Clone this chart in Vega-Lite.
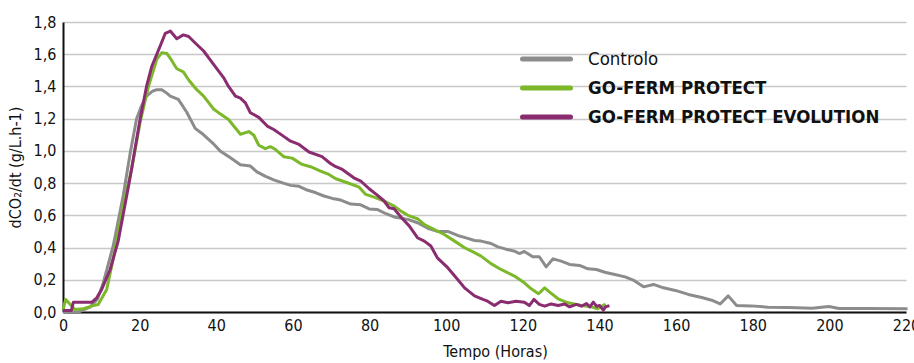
{
  "$schema": "https://vega.github.io/schema/vega-lite/v6.json",
  "width": 843,
  "height": 290,
  "autosize": "none",
  "padding": {"left": 63, "top": 22, "right": 8, "bottom": 51},
  "background": "white",
  "config": {
    "view": {"stroke": null},
    "font": "Liberation Sans Narrow, DejaVu Sans Condensed, Roboto"
  },
  "data": {
    "values": [
      {"h": 0, "v": 0.0, "s": "Controlo"},
      {"h": 4, "v": 0.0, "s": "Controlo"},
      {"h": 7, "v": 0.03, "s": "Controlo"},
      {"h": 9, "v": 0.08, "s": "Controlo"},
      {"h": 10.5, "v": 0.18, "s": "Controlo"},
      {"h": 13.1, "v": 0.41, "s": "Controlo"},
      {"h": 15.7, "v": 0.72, "s": "Controlo"},
      {"h": 17.5, "v": 0.98, "s": "Controlo"},
      {"h": 19.2, "v": 1.2, "s": "Controlo"},
      {"h": 20.5, "v": 1.28, "s": "Controlo"},
      {"h": 21.8, "v": 1.34, "s": "Controlo"},
      {"h": 23.3, "v": 1.37, "s": "Controlo"},
      {"h": 24.5, "v": 1.38, "s": "Controlo"},
      {"h": 25.8, "v": 1.38, "s": "Controlo"},
      {"h": 27, "v": 1.36, "s": "Controlo"},
      {"h": 28, "v": 1.34, "s": "Controlo"},
      {"h": 30.1, "v": 1.32, "s": "Controlo"},
      {"h": 32.3, "v": 1.24, "s": "Controlo"},
      {"h": 34.5, "v": 1.14, "s": "Controlo"},
      {"h": 36.7, "v": 1.1, "s": "Controlo"},
      {"h": 39, "v": 1.05, "s": "Controlo"},
      {"h": 41, "v": 1.0, "s": "Controlo"},
      {"h": 43.5, "v": 0.96, "s": "Controlo"},
      {"h": 46.3, "v": 0.914, "s": "Controlo"},
      {"h": 48.9, "v": 0.906, "s": "Controlo"},
      {"h": 50.6, "v": 0.87, "s": "Controlo"},
      {"h": 53, "v": 0.84, "s": "Controlo"},
      {"h": 55, "v": 0.82, "s": "Controlo"},
      {"h": 57.5, "v": 0.8, "s": "Controlo"},
      {"h": 59.4, "v": 0.786, "s": "Controlo"},
      {"h": 61.6, "v": 0.78, "s": "Controlo"},
      {"h": 63.7, "v": 0.757, "s": "Controlo"},
      {"h": 66, "v": 0.74, "s": "Controlo"},
      {"h": 68.1, "v": 0.72, "s": "Controlo"},
      {"h": 70.3, "v": 0.705, "s": "Controlo"},
      {"h": 72.5, "v": 0.695, "s": "Controlo"},
      {"h": 75.1, "v": 0.67, "s": "Controlo"},
      {"h": 77.7, "v": 0.665, "s": "Controlo"},
      {"h": 79.9, "v": 0.64, "s": "Controlo"},
      {"h": 82.1, "v": 0.636, "s": "Controlo"},
      {"h": 84.3, "v": 0.61, "s": "Controlo"},
      {"h": 86.4, "v": 0.59, "s": "Controlo"},
      {"h": 90, "v": 0.575, "s": "Controlo"},
      {"h": 92.5, "v": 0.554, "s": "Controlo"},
      {"h": 95.2, "v": 0.52, "s": "Controlo"},
      {"h": 97.7, "v": 0.5, "s": "Controlo"},
      {"h": 100.4, "v": 0.5, "s": "Controlo"},
      {"h": 103, "v": 0.475, "s": "Controlo"},
      {"h": 105.2, "v": 0.46, "s": "Controlo"},
      {"h": 107.4, "v": 0.444, "s": "Controlo"},
      {"h": 109.1, "v": 0.44, "s": "Controlo"},
      {"h": 111.7, "v": 0.425, "s": "Controlo"},
      {"h": 113.5, "v": 0.404, "s": "Controlo"},
      {"h": 115.6, "v": 0.39, "s": "Controlo"},
      {"h": 117.8, "v": 0.378, "s": "Controlo"},
      {"h": 119.1, "v": 0.363, "s": "Controlo"},
      {"h": 120.4, "v": 0.376, "s": "Controlo"},
      {"h": 122.6, "v": 0.343, "s": "Controlo"},
      {"h": 124.3, "v": 0.343, "s": "Controlo"},
      {"h": 126.1, "v": 0.28, "s": "Controlo"},
      {"h": 127.9, "v": 0.33, "s": "Controlo"},
      {"h": 130, "v": 0.316, "s": "Controlo"},
      {"h": 132.2, "v": 0.295, "s": "Controlo"},
      {"h": 134.8, "v": 0.289, "s": "Controlo"},
      {"h": 137, "v": 0.268, "s": "Controlo"},
      {"h": 139.2, "v": 0.264, "s": "Controlo"},
      {"h": 141.4, "v": 0.247, "s": "Controlo"},
      {"h": 144, "v": 0.233, "s": "Controlo"},
      {"h": 146.7, "v": 0.218, "s": "Controlo"},
      {"h": 148.8, "v": 0.198, "s": "Controlo"},
      {"h": 151.5, "v": 0.156, "s": "Controlo"},
      {"h": 154.1, "v": 0.171, "s": "Controlo"},
      {"h": 156.7, "v": 0.15, "s": "Controlo"},
      {"h": 159.8, "v": 0.134, "s": "Controlo"},
      {"h": 163.2, "v": 0.109, "s": "Controlo"},
      {"h": 166.7, "v": 0.09, "s": "Controlo"},
      {"h": 169.3, "v": 0.073, "s": "Controlo"},
      {"h": 171.5, "v": 0.05, "s": "Controlo"},
      {"h": 173.6, "v": 0.1, "s": "Controlo"},
      {"h": 175.8, "v": 0.04, "s": "Controlo"},
      {"h": 179.5, "v": 0.038, "s": "Controlo"},
      {"h": 184, "v": 0.03, "s": "Controlo"},
      {"h": 189.4, "v": 0.028, "s": "Controlo"},
      {"h": 195.5, "v": 0.024, "s": "Controlo"},
      {"h": 199.9, "v": 0.034, "s": "Controlo"},
      {"h": 202.5, "v": 0.022, "s": "Controlo"},
      {"h": 210, "v": 0.022, "s": "Controlo"},
      {"h": 220.4, "v": 0.02, "s": "Controlo"},

      {"h": 0, "v": 0.015, "s": "GO-FERM PROTECT"},
      {"h": 0.7, "v": 0.078, "s": "GO-FERM PROTECT"},
      {"h": 2.7, "v": 0.026, "s": "GO-FERM PROTECT"},
      {"h": 3.1, "v": 0.015, "s": "GO-FERM PROTECT"},
      {"h": 5.3, "v": 0.02, "s": "GO-FERM PROTECT"},
      {"h": 7.9, "v": 0.04, "s": "GO-FERM PROTECT"},
      {"h": 9.2, "v": 0.047, "s": "GO-FERM PROTECT"},
      {"h": 11.4, "v": 0.14, "s": "GO-FERM PROTECT"},
      {"h": 13.1, "v": 0.33, "s": "GO-FERM PROTECT"},
      {"h": 15.7, "v": 0.66, "s": "GO-FERM PROTECT"},
      {"h": 17.9, "v": 0.885, "s": "GO-FERM PROTECT"},
      {"h": 20.1, "v": 1.175, "s": "GO-FERM PROTECT"},
      {"h": 22.3, "v": 1.4, "s": "GO-FERM PROTECT"},
      {"h": 24.5, "v": 1.57, "s": "GO-FERM PROTECT"},
      {"h": 25.8, "v": 1.61, "s": "GO-FERM PROTECT"},
      {"h": 27.1, "v": 1.605, "s": "GO-FERM PROTECT"},
      {"h": 28.4, "v": 1.56, "s": "GO-FERM PROTECT"},
      {"h": 29.7, "v": 1.51, "s": "GO-FERM PROTECT"},
      {"h": 31.4, "v": 1.49, "s": "GO-FERM PROTECT"},
      {"h": 32.8, "v": 1.44, "s": "GO-FERM PROTECT"},
      {"h": 34.9, "v": 1.38, "s": "GO-FERM PROTECT"},
      {"h": 36.7, "v": 1.34, "s": "GO-FERM PROTECT"},
      {"h": 39.3, "v": 1.26, "s": "GO-FERM PROTECT"},
      {"h": 41, "v": 1.23, "s": "GO-FERM PROTECT"},
      {"h": 43.2, "v": 1.195, "s": "GO-FERM PROTECT"},
      {"h": 46.3, "v": 1.103, "s": "GO-FERM PROTECT"},
      {"h": 48.5, "v": 1.12, "s": "GO-FERM PROTECT"},
      {"h": 49.8, "v": 1.097, "s": "GO-FERM PROTECT"},
      {"h": 51.1, "v": 1.035, "s": "GO-FERM PROTECT"},
      {"h": 52.8, "v": 1.014, "s": "GO-FERM PROTECT"},
      {"h": 54.1, "v": 1.026, "s": "GO-FERM PROTECT"},
      {"h": 55.4, "v": 1.01, "s": "GO-FERM PROTECT"},
      {"h": 57.6, "v": 0.964, "s": "GO-FERM PROTECT"},
      {"h": 59.8, "v": 0.955, "s": "GO-FERM PROTECT"},
      {"h": 62.4, "v": 0.916, "s": "GO-FERM PROTECT"},
      {"h": 64.6, "v": 0.902, "s": "GO-FERM PROTECT"},
      {"h": 67.2, "v": 0.875, "s": "GO-FERM PROTECT"},
      {"h": 69.4, "v": 0.854, "s": "GO-FERM PROTECT"},
      {"h": 71.2, "v": 0.827, "s": "GO-FERM PROTECT"},
      {"h": 74.2, "v": 0.802, "s": "GO-FERM PROTECT"},
      {"h": 77.3, "v": 0.775, "s": "GO-FERM PROTECT"},
      {"h": 79, "v": 0.73, "s": "GO-FERM PROTECT"},
      {"h": 81.2, "v": 0.713, "s": "GO-FERM PROTECT"},
      {"h": 83.8, "v": 0.689, "s": "GO-FERM PROTECT"},
      {"h": 86.4, "v": 0.658, "s": "GO-FERM PROTECT"},
      {"h": 88.2, "v": 0.626, "s": "GO-FERM PROTECT"},
      {"h": 90, "v": 0.6, "s": "GO-FERM PROTECT"},
      {"h": 92.5, "v": 0.579, "s": "GO-FERM PROTECT"},
      {"h": 94.3, "v": 0.543, "s": "GO-FERM PROTECT"},
      {"h": 96.9, "v": 0.512, "s": "GO-FERM PROTECT"},
      {"h": 99.5, "v": 0.481, "s": "GO-FERM PROTECT"},
      {"h": 102.2, "v": 0.44, "s": "GO-FERM PROTECT"},
      {"h": 104.8, "v": 0.399, "s": "GO-FERM PROTECT"},
      {"h": 107.4, "v": 0.368, "s": "GO-FERM PROTECT"},
      {"h": 109.1, "v": 0.347, "s": "GO-FERM PROTECT"},
      {"h": 111.7, "v": 0.3, "s": "GO-FERM PROTECT"},
      {"h": 114.3, "v": 0.264, "s": "GO-FERM PROTECT"},
      {"h": 117.8, "v": 0.223, "s": "GO-FERM PROTECT"},
      {"h": 120.4, "v": 0.181, "s": "GO-FERM PROTECT"},
      {"h": 122.2, "v": 0.144, "s": "GO-FERM PROTECT"},
      {"h": 124.1, "v": 0.113, "s": "GO-FERM PROTECT"},
      {"h": 125.7, "v": 0.15, "s": "GO-FERM PROTECT"},
      {"h": 127, "v": 0.123, "s": "GO-FERM PROTECT"},
      {"h": 129.2, "v": 0.082, "s": "GO-FERM PROTECT"},
      {"h": 131.8, "v": 0.057, "s": "GO-FERM PROTECT"},
      {"h": 135.3, "v": 0.04, "s": "GO-FERM PROTECT"},
      {"h": 137.9, "v": 0.032, "s": "GO-FERM PROTECT"},
      {"h": 139.5, "v": 0.02, "s": "GO-FERM PROTECT"},
      {"h": 140.5, "v": 0.032, "s": "GO-FERM PROTECT"},
      {"h": 141.6, "v": 0.05, "s": "GO-FERM PROTECT"},

      {"h": 0, "v": 0.01, "s": "GO-FERM PROTECT EVOLUTION"},
      {"h": 2.2, "v": 0.01, "s": "GO-FERM PROTECT EVOLUTION"},
      {"h": 2.7, "v": 0.06, "s": "GO-FERM PROTECT EVOLUTION"},
      {"h": 7.5, "v": 0.06, "s": "GO-FERM PROTECT EVOLUTION"},
      {"h": 8.8, "v": 0.088, "s": "GO-FERM PROTECT EVOLUTION"},
      {"h": 10.1, "v": 0.14, "s": "GO-FERM PROTECT EVOLUTION"},
      {"h": 12.3, "v": 0.264, "s": "GO-FERM PROTECT EVOLUTION"},
      {"h": 14.4, "v": 0.44, "s": "GO-FERM PROTECT EVOLUTION"},
      {"h": 17.5, "v": 0.833, "s": "GO-FERM PROTECT EVOLUTION"},
      {"h": 20.1, "v": 1.195, "s": "GO-FERM PROTECT EVOLUTION"},
      {"h": 21.8, "v": 1.4, "s": "GO-FERM PROTECT EVOLUTION"},
      {"h": 23.2, "v": 1.527, "s": "GO-FERM PROTECT EVOLUTION"},
      {"h": 25.3, "v": 1.647, "s": "GO-FERM PROTECT EVOLUTION"},
      {"h": 26.7, "v": 1.73, "s": "GO-FERM PROTECT EVOLUTION"},
      {"h": 28, "v": 1.744, "s": "GO-FERM PROTECT EVOLUTION"},
      {"h": 29.7, "v": 1.696, "s": "GO-FERM PROTECT EVOLUTION"},
      {"h": 31.4, "v": 1.72, "s": "GO-FERM PROTECT EVOLUTION"},
      {"h": 32.8, "v": 1.71, "s": "GO-FERM PROTECT EVOLUTION"},
      {"h": 34.5, "v": 1.67, "s": "GO-FERM PROTECT EVOLUTION"},
      {"h": 36.7, "v": 1.62, "s": "GO-FERM PROTECT EVOLUTION"},
      {"h": 39.3, "v": 1.537, "s": "GO-FERM PROTECT EVOLUTION"},
      {"h": 41.9, "v": 1.455, "s": "GO-FERM PROTECT EVOLUTION"},
      {"h": 43.2, "v": 1.4, "s": "GO-FERM PROTECT EVOLUTION"},
      {"h": 45, "v": 1.34, "s": "GO-FERM PROTECT EVOLUTION"},
      {"h": 46.3, "v": 1.327, "s": "GO-FERM PROTECT EVOLUTION"},
      {"h": 47.6, "v": 1.298, "s": "GO-FERM PROTECT EVOLUTION"},
      {"h": 48.9, "v": 1.237, "s": "GO-FERM PROTECT EVOLUTION"},
      {"h": 51.1, "v": 1.208, "s": "GO-FERM PROTECT EVOLUTION"},
      {"h": 53.3, "v": 1.154, "s": "GO-FERM PROTECT EVOLUTION"},
      {"h": 55, "v": 1.133, "s": "GO-FERM PROTECT EVOLUTION"},
      {"h": 57.6, "v": 1.09, "s": "GO-FERM PROTECT EVOLUTION"},
      {"h": 59.4, "v": 1.06, "s": "GO-FERM PROTECT EVOLUTION"},
      {"h": 61.6, "v": 1.04, "s": "GO-FERM PROTECT EVOLUTION"},
      {"h": 64.2, "v": 0.993, "s": "GO-FERM PROTECT EVOLUTION"},
      {"h": 67.6, "v": 0.964, "s": "GO-FERM PROTECT EVOLUTION"},
      {"h": 69.8, "v": 0.922, "s": "GO-FERM PROTECT EVOLUTION"},
      {"h": 71.2, "v": 0.902, "s": "GO-FERM PROTECT EVOLUTION"},
      {"h": 72.9, "v": 0.885, "s": "GO-FERM PROTECT EVOLUTION"},
      {"h": 75.9, "v": 0.833, "s": "GO-FERM PROTECT EVOLUTION"},
      {"h": 77.7, "v": 0.813, "s": "GO-FERM PROTECT EVOLUTION"},
      {"h": 79.9, "v": 0.765, "s": "GO-FERM PROTECT EVOLUTION"},
      {"h": 82.1, "v": 0.724, "s": "GO-FERM PROTECT EVOLUTION"},
      {"h": 83.8, "v": 0.689, "s": "GO-FERM PROTECT EVOLUTION"},
      {"h": 85.1, "v": 0.647, "s": "GO-FERM PROTECT EVOLUTION"},
      {"h": 86.4, "v": 0.641, "s": "GO-FERM PROTECT EVOLUTION"},
      {"h": 88.2, "v": 0.59, "s": "GO-FERM PROTECT EVOLUTION"},
      {"h": 90.4, "v": 0.533, "s": "GO-FERM PROTECT EVOLUTION"},
      {"h": 92.5, "v": 0.461, "s": "GO-FERM PROTECT EVOLUTION"},
      {"h": 94.3, "v": 0.44, "s": "GO-FERM PROTECT EVOLUTION"},
      {"h": 96, "v": 0.41, "s": "GO-FERM PROTECT EVOLUTION"},
      {"h": 97.7, "v": 0.336, "s": "GO-FERM PROTECT EVOLUTION"},
      {"h": 100.4, "v": 0.275, "s": "GO-FERM PROTECT EVOLUTION"},
      {"h": 103, "v": 0.202, "s": "GO-FERM PROTECT EVOLUTION"},
      {"h": 104.8, "v": 0.15, "s": "GO-FERM PROTECT EVOLUTION"},
      {"h": 107.4, "v": 0.1, "s": "GO-FERM PROTECT EVOLUTION"},
      {"h": 109.6, "v": 0.078, "s": "GO-FERM PROTECT EVOLUTION"},
      {"h": 110.8, "v": 0.067, "s": "GO-FERM PROTECT EVOLUTION"},
      {"h": 112.6, "v": 0.04, "s": "GO-FERM PROTECT EVOLUTION"},
      {"h": 114.3, "v": 0.067, "s": "GO-FERM PROTECT EVOLUTION"},
      {"h": 116.1, "v": 0.057, "s": "GO-FERM PROTECT EVOLUTION"},
      {"h": 118.2, "v": 0.067, "s": "GO-FERM PROTECT EVOLUTION"},
      {"h": 120.4, "v": 0.061, "s": "GO-FERM PROTECT EVOLUTION"},
      {"h": 121.7, "v": 0.04, "s": "GO-FERM PROTECT EVOLUTION"},
      {"h": 122.9, "v": 0.078, "s": "GO-FERM PROTECT EVOLUTION"},
      {"h": 124.3, "v": 0.047, "s": "GO-FERM PROTECT EVOLUTION"},
      {"h": 125.7, "v": 0.036, "s": "GO-FERM PROTECT EVOLUTION"},
      {"h": 127.4, "v": 0.05, "s": "GO-FERM PROTECT EVOLUTION"},
      {"h": 129.2, "v": 0.04, "s": "GO-FERM PROTECT EVOLUTION"},
      {"h": 130.9, "v": 0.05, "s": "GO-FERM PROTECT EVOLUTION"},
      {"h": 132.2, "v": 0.032, "s": "GO-FERM PROTECT EVOLUTION"},
      {"h": 134, "v": 0.047, "s": "GO-FERM PROTECT EVOLUTION"},
      {"h": 135.3, "v": 0.036, "s": "GO-FERM PROTECT EVOLUTION"},
      {"h": 136.6, "v": 0.053, "s": "GO-FERM PROTECT EVOLUTION"},
      {"h": 137.5, "v": 0.032, "s": "GO-FERM PROTECT EVOLUTION"},
      {"h": 138.4, "v": 0.061, "s": "GO-FERM PROTECT EVOLUTION"},
      {"h": 139.2, "v": 0.036, "s": "GO-FERM PROTECT EVOLUTION"},
      {"h": 140.1, "v": 0.04, "s": "GO-FERM PROTECT EVOLUTION"},
      {"h": 141, "v": 0.011, "s": "GO-FERM PROTECT EVOLUTION"},
      {"h": 141.6, "v": 0.032, "s": "GO-FERM PROTECT EVOLUTION"},
      {"h": 142.6, "v": 0.04, "s": "GO-FERM PROTECT EVOLUTION"}
    ]
  },
  "mark": {"type": "line", "strokeWidth": 3, "strokeJoin": "round"},
  "encoding": {
    "x": {
      "field": "h",
      "type": "quantitative",
      "scale": {"domain": [0, 220], "nice": false, "zero": true},
      "axis": {
        "title": "Tempo (Horas)",
        "values": [0, 20, 40, 60, 80, 100, 120, 140, 160, 180, 200, 220],
        "grid": false,
        "ticks": false,
        "domainColor": "#111111",
        "domainWidth": 2,
        "labelFontSize": 16,
        "labelColor": "#111111",
        "labelPadding": 5,
        "labelFlush": false,
        "titleFontSize": 16,
        "titleFontWeight": "normal",
        "titleColor": "#111111",
        "titlePadding": 10,
        "titleX": 432
      }
    },
    "y": {
      "field": "v",
      "type": "quantitative",
      "scale": {"domain": [0, 1.8], "nice": false},
      "axis": {
        "title": "dCO₂/dt (g/L.h-1)",
        "values": [0, 0.2, 0.4, 0.6, 0.8, 1.0, 1.2, 1.4, 1.6, 1.8],
        "labelExpr": "replace(format(datum.value, '.1f'), '.', ',')",
        "grid": true,
        "gridColor": "#c8c8c8",
        "gridWidth": 1.5,
        "ticks": false,
        "domainColor": "#111111",
        "domainWidth": 2,
        "labelFontSize": 16,
        "labelColor": "#111111",
        "labelPadding": 7,
        "labelFlush": false,
        "titleFontSize": 16,
        "titleFontWeight": "normal",
        "titleColor": "#111111",
        "titlePadding": 10
      }
    },
    "color": {
      "field": "s",
      "type": "nominal",
      "scale": {
        "domain": ["Controlo", "GO-FERM PROTECT", "GO-FERM PROTECT EVOLUTION"],
        "range": ["#8c8c8c", "#7cb82a", "#8a2d70"]
      },
      "legend": {
        "title": null,
        "orient": "none",
        "legendX": 457,
        "legendY": 26,
        "symbolType": "stroke",
        "symbolSize": 2304,
        "symbolStrokeWidth": 5,
        "clipHeight": 22,
        "labelFontSize": 18.5,
        "labelColor": "#111111",
        "labelOffset": 15,
        "labelLimit": 500,
        "rowPadding": 7,
        "padding": 0,
        "encode": {
          "labels": {"update": {"fontWeight": {"signal": "datum.label == 'Controlo' ? 'normal' : 'bold'"}}},
          "symbols": {"update": {"strokeCap": {"value": "round"}}}
        }
      }
    }
  }
}
